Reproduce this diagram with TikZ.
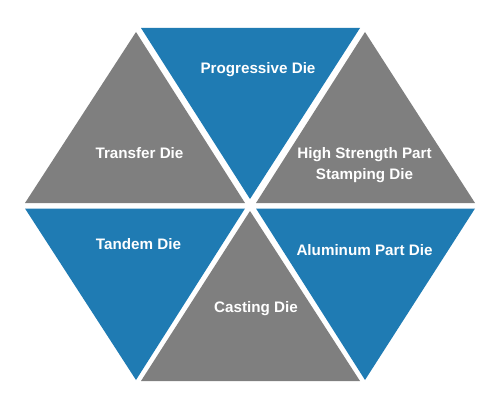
\documentclass[tikz,border=0pt]{standalone}
\usepackage{fontspec}
\setmainfont{Liberation Sans}
\newlength{\du}
\setlength{\du}{1pt}
\begin{document}
\begin{tikzpicture}[even odd rule,
  dietext/.style={anchor=base,inner sep=0pt,outer sep=0pt,align=center,color=white,
    font=\bfseries\fontsize{15.2}{20.5}\selectfont}]
\pgftransformxscale{1.000000}
\pgftransformyscale{-1.000000}
\useasboundingbox (0\du,0\du) rectangle (500\du,412\du);
\definecolor{diablue}{rgb}{0.121569, 0.482353, 0.701961}
\definecolor{diagray}{rgb}{0.498039, 0.498039, 0.498039}
\pgfsetfillopacity{1.000000}
% top, blue
\pgfsetfillcolor{diablue}
\pgfpathmoveto{\pgfpoint{141.000000\du}{28.000000\du}}
\pgfpathlineto{\pgfpoint{360.000000\du}{28.000000\du}}
\pgfpathlineto{\pgfpoint{250.000000\du}{199.000000\du}}
\pgfpathclose
\pgfusepath{fill}
% upper left, gray
\pgfsetfillcolor{diagray}
\pgfpathmoveto{\pgfpoint{136.000000\du}{32.000000\du}}
\pgfpathlineto{\pgfpoint{245.000000\du}{203.000000\du}}
\pgfpathlineto{\pgfpoint{25.000000\du}{203.000000\du}}
\pgfpathclose
\pgfusepath{fill}
% upper right, gray
\pgfsetfillcolor{diagray}
\pgfpathmoveto{\pgfpoint{365.000000\du}{32.000000\du}}
\pgfpathlineto{\pgfpoint{475.000000\du}{203.000000\du}}
\pgfpathlineto{\pgfpoint{256.000000\du}{203.000000\du}}
\pgfpathclose
\pgfusepath{fill}
% lower left, blue
\pgfsetfillcolor{diablue}
\pgfpathmoveto{\pgfpoint{25.000000\du}{208.500000\du}}
\pgfpathlineto{\pgfpoint{245.000000\du}{208.500000\du}}
\pgfpathlineto{\pgfpoint{136.000000\du}{380.000000\du}}
\pgfpathclose
\pgfusepath{fill}
% lower right, blue
\pgfsetfillcolor{diablue}
\pgfpathmoveto{\pgfpoint{256.000000\du}{208.500000\du}}
\pgfpathlineto{\pgfpoint{475.000000\du}{208.500000\du}}
\pgfpathlineto{\pgfpoint{365.000000\du}{380.000000\du}}
\pgfpathclose
\pgfusepath{fill}
% bottom, gray
\pgfsetfillcolor{diagray}
\pgfpathmoveto{\pgfpoint{250.000000\du}{211.000000\du}}
\pgfpathlineto{\pgfpoint{360.000000\du}{381.000000\du}}
\pgfpathlineto{\pgfpoint{141.000000\du}{381.000000\du}}
\pgfpathclose
\pgfusepath{fill}
% labels
\node[dietext] (progressive) at (258.000000\du,73.500000\du){Progressive Die};
\node[dietext] (transfer) at (139.500000\du,158.500000\du){Transfer Die};
\node[dietext] (highstrength) at (364.500000\du,179.000000\du){High Strength Part\\Stamping Die};
\node[dietext] (tandem) at (138.500000\du,249.500000\du){Tandem Die};
\node[dietext] (aluminum) at (364.500000\du,255.500000\du){Aluminum Part Die};
\node[dietext] (casting) at (256.000000\du,312.500000\du){Casting Die};
\end{tikzpicture}
\end{document}
